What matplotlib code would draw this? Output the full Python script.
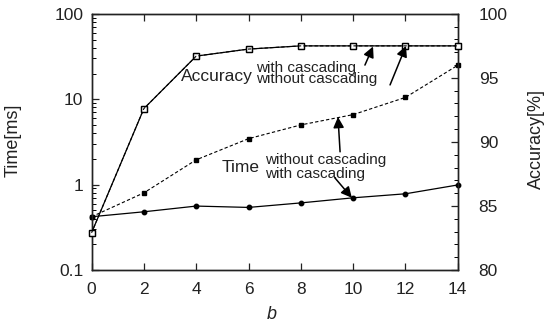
import numpy as np
import matplotlib
matplotlib.use("Agg")
from matplotlib import pyplot as plt
from matplotlib.ticker import LogLocator, NullFormatter, MultipleLocator, FixedFormatter

plt.rcParams['font.family'] = ['Liberation Sans', 'DejaVu Sans']

# data
b = [0, 2, 4, 6, 8, 10, 12, 14]
time_without = [0.42, 0.80, 1.95, 3.45, 5.0, 6.6, 10.5, 25.0]
time_with = [0.42, 0.48, 0.56, 0.54, 0.61, 0.70, 0.78, 0.99]
acc_with = [82.9, 92.6, 96.7, 97.25, 97.5, 97.5, 97.5, 97.5]
acc_without = [82.9, 92.6, 96.7, 97.25, 97.5, 97.5, 97.5, 97.5]

x_ticks = [0, 2, 4, 6, 8, 10, 12, 14]
time_ticks = [0.1, 1, 10, 100]
time_labels = ['0.1', '1', '10', '100']
acc_ticks = [80, 85, 90, 95, 100]

fig = plt.figure(figsize=(5.45, 3.3), dpi=100)
ax = fig.add_axes([0.168, 0.182, 0.672, 0.776])
ax2 = ax.twinx()

# time series (left, log)
ax.plot(b, time_without, color='black', lw=0.8, ls=(0, (3, 2)), marker='s',
        ms=3.5, mfc='black', mec='black', clip_on=False, zorder=3)
ax.plot(b, time_with, color='black', lw=0.9, ls='-', marker='o',
        ms=3.2, mfc='black', mec='black', clip_on=False, zorder=3)
ax.set_yscale('log')
ax.set_ylim(0.1, 100)
ax.set_xlim(0, 14)
ax.set_xticks(x_ticks)
ax.set_yticks(time_ticks)
ax.yaxis.set_major_formatter(FixedFormatter(time_labels))
ax.yaxis.set_minor_locator(LogLocator(base=10, subs=np.arange(2, 10)))
ax.yaxis.set_minor_formatter(NullFormatter())

# accuracy series (right, linear)
ax2.plot(b, acc_with, color='black', lw=0.9, ls='-', marker='s', ms=4.5,
         mfc='white', mec='black', mew=0.9, clip_on=False, zorder=3)
ax2.plot(b, acc_without, color='black', lw=0.8, ls=(0, (3, 2)), marker='s', ms=4.5,
         mfc='none', mec='black', mew=0.9, clip_on=False, zorder=3)
ax2.set_ylim(80, 100)
ax2.set_yticks(acc_ticks)
ax2.yaxis.set_minor_locator(MultipleLocator(1))

for a in (ax, ax2):
    for s in a.spines.values():
        s.set_linewidth(1.0)
        s.set_color('#222222')

ax.tick_params(axis='x', which='both', direction='in', top=True, length=5,
               width=0.9, labelsize=12.5, pad=9, colors='#222222')
ax.tick_params(axis='y', which='major', direction='in', length=5, width=0.9,
               labelsize=12.5, pad=6, colors='#222222')
ax.tick_params(axis='y', which='minor', direction='in', length=3, width=0.7)
ax2.tick_params(axis='y', which='major', direction='in', length=5, width=0.9,
                labelsize=12.5, pad=15, colors='#222222')
ax2.tick_params(axis='y', which='minor', direction='in', length=3, width=0.7)

ax.set_xlabel('b', fontsize=13, style='italic', color='#222222')
ax.xaxis.set_label_coords(0.492, -0.14)
ax.set_ylabel('Time[ms]', fontsize=13, color='#222222')
ax.yaxis.set_label_coords(-0.19, 0.508)
ax2.set_ylabel('Accuracy[%]', fontsize=13, color='#222222')
ax2.yaxis.set_label_coords(1.191, 0.51)

# annotations (placed on left log axis)
tc = '#222222'
ax.text(3.40, 16.4, 'Accuracy', fontsize=12.5, va='baseline', ha='left', color=tc)
ax.text(6.28, 20.7, 'with cascading', fontsize=11, va='baseline', ha='left', color=tc)
ax.text(6.28, 15.5, 'without cascading', fontsize=11, va='baseline', ha='left', color=tc)
ax.text(4.97, 1.42, 'Time', fontsize=12.5, va='baseline', ha='left', color=tc)
ax.text(6.63, 1.73, 'without cascading', fontsize=11, va='baseline', ha='left', color=tc)
ax.text(6.63, 1.21, 'with cascading', fontsize=11, va='baseline', ha='left', color=tc)

arrow = dict(arrowstyle='-|>', color='black', lw=1.1, mutation_scale=16,
             shrinkA=0, shrinkB=0)
ax2.annotate('', xy=(10.76, 97.45), xytext=(10.45, 96.0), arrowprops=arrow)
ax2.annotate('', xy=(12.02, 97.5), xytext=(11.41, 94.45), arrowprops=arrow)
ax.annotate('', xy=(9.42, 6.2), xytext=(9.5, 2.42), arrowprops=arrow)
ax.annotate('', xy=(9.95, 0.70), xytext=(9.30, 1.20), arrowprops=arrow)

fig.savefig('out.png', dpi=100)
